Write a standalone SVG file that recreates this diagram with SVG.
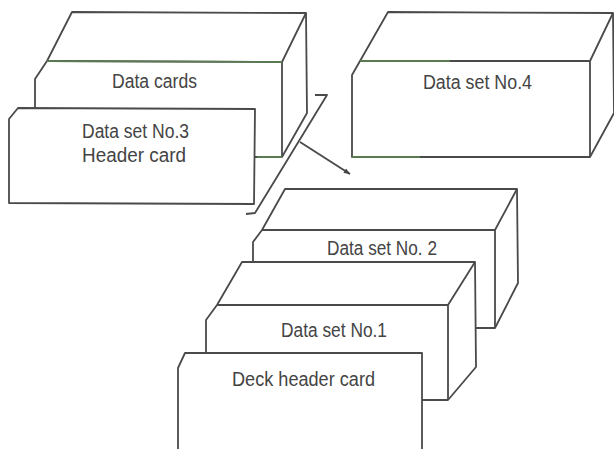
<svg xmlns="http://www.w3.org/2000/svg" width="614" height="449" viewBox="0 0 614 449">
<defs>
<marker id="ah" viewBox="0 0 10 10" refX="9" refY="5" markerWidth="7" markerHeight="7" orient="auto" markerUnits="userSpaceOnUse">
<path d="M0,1.5 L10,5 L0,8.5 z" fill="#444"/>
</marker>
</defs>
<style>
.f{fill:#fff;stroke:#4a4a4a;stroke-width:1.8;stroke-linejoin:round}
.l{fill:none;stroke:#4a4a4a;stroke-width:1.8;stroke-linejoin:round}
.g{fill:none;stroke:#5a7a52;stroke-width:1.8}
.t{font-family:"Liberation Sans",Arial,sans-serif;font-size:19.5px;fill:#444}
</style>
<rect width="614" height="449" fill="#fff"/>
<g id="box-data-cards">
<path class="f" d="M72,12 L306,13 L307,113 L282,157 L35,157 L35,79 L47,61 Z"/>
<path class="l" d="M47,61 L282,62 L306,13 M282,62 L282,157"/>
<path class="g" d="M47,61 L282,62 M257,157 L282,157"/>
<text class="t" x="112" y="88" textLength="85" lengthAdjust="spacingAndGlyphs">Data cards</text>
</g>
<g id="card-data-set-3-header">
<path class="f" d="M18,108 L255,109 L254,204 L9,203 L9,119 Z"/>
<text class="t" x="82" y="138" textLength="107" lengthAdjust="spacingAndGlyphs">Data set No.3</text>
<text class="t" x="82" y="161.5" textLength="104" lengthAdjust="spacingAndGlyphs">Header card</text>
</g>
<g id="box-data-set-4">
<path class="f" d="M388,12 L613,13 L614,113 L590,157 L352,157 L352,75 L360,61 Z"/>
<path class="l" d="M360,61 L590,61 L613,13 M590,61 L590,157"/>
<path class="g" d="M360,61 L450,61 M352,157 L420,157"/>
<text class="t" x="423" y="88.5" textLength="109" lengthAdjust="spacingAndGlyphs">Data set No.4</text>
</g>
<g id="box-data-set-2">
<path class="f" d="M285,189 L517,189 L518,283 L495,328 L253,328 L253,242 L262,230 Z"/>
<path class="l" d="M262,230 L495,230 L517,189 M495,230 L495,328"/>
<text class="t" x="327" y="255" textLength="110" lengthAdjust="spacingAndGlyphs">Data set No. 2</text>
</g>
<g id="box-data-set-1">
<path class="f" d="M242,262 L475,262 L476,367 L448,400 L206,400 L206,320 L217,305 Z"/>
<path class="l" d="M217,305 L448,305 L475,262 M448,305 L448,400"/>
<text class="t" x="281" y="336.5" textLength="106" lengthAdjust="spacingAndGlyphs">Data set No.1</text>
</g>
<g id="card-deck-header">
<path class="f" d="M185,353 L422,353 L422,455 L178,455 L178,368 Z"/>
<text class="t" x="232" y="385.5" textLength="143" lengthAdjust="spacingAndGlyphs">Deck header card</text>
</g>
<g id="connectors">
<path class="l" d="M315,95 L327,95 L255,213 L246,214"/>
<path class="l" d="M300,142 L350,174" marker-end="url(#ah)"/>
</g>
</svg>
